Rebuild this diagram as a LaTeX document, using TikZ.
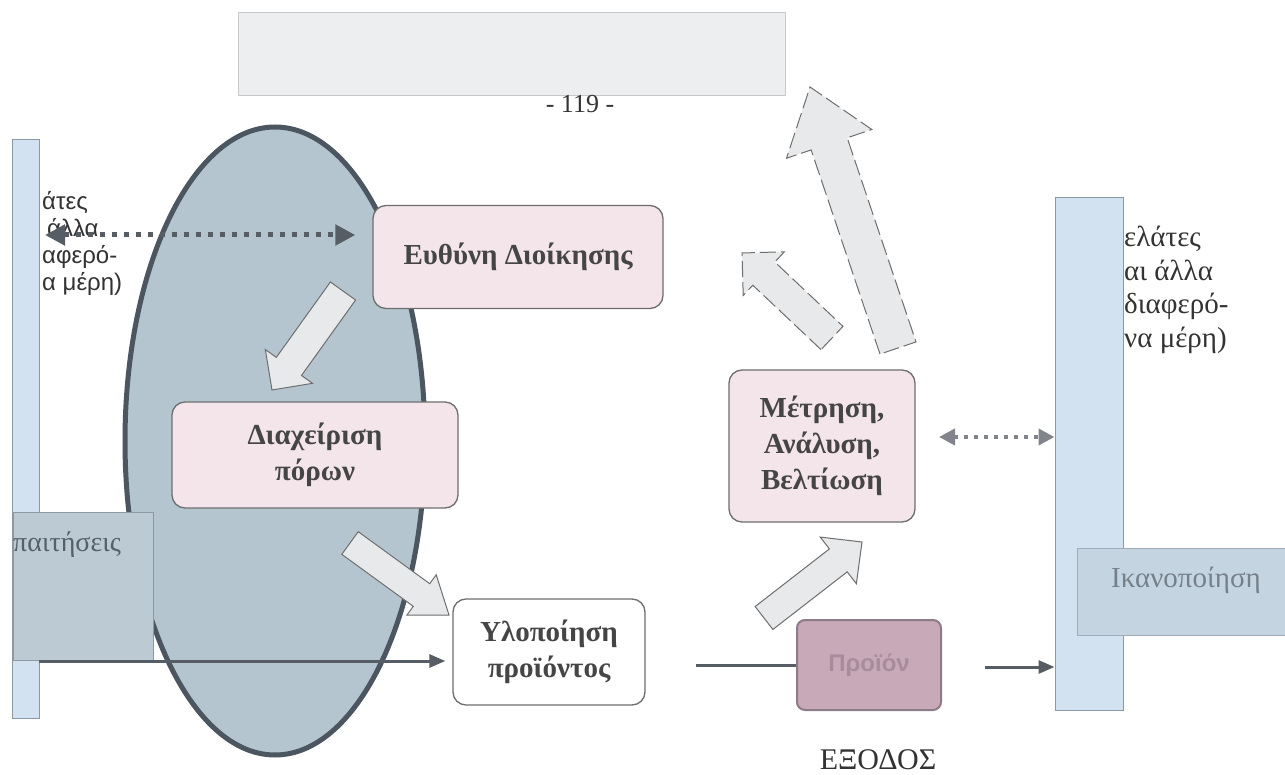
\documentclass[tikz,border=0pt]{standalone}
\usepackage{fontspec}
\setmainfont{Liberation Serif}
\newfontfamily\sansgr{Liberation Sans}
\usetikzlibrary{calc,arrows.meta}

\definecolor{boxpink}{HTML}{F3E5EA}
\definecolor{boxline}{HTML}{6E6E6E}
\definecolor{boxtext}{HTML}{454545}
\definecolor{barblue}{HTML}{D3E2F1}
\definecolor{barline}{HTML}{8C98A4}
\definecolor{ovalfill}{HTML}{B5C5D0}
\definecolor{ovalline}{HTML}{4B5661}
\definecolor{reqfill}{HTML}{BCCAD4}
\definecolor{reqtext}{HTML}{55606B}
\definecolor{sattext}{HTML}{75808B}
\definecolor{satfill}{HTML}{C4D5E1}
\definecolor{arrowfill}{HTML}{E7E9EB}
\definecolor{prodfill}{HTML}{C7A9B7}
\definecolor{prodline}{HTML}{8D7C88}
\definecolor{prodtext}{HTML}{A88C9C}
\definecolor{topfill}{HTML}{ECEEF0}
\definecolor{topline}{HTML}{C6C8CA}
\definecolor{dotgrey}{HTML}{575D64}
\definecolor{textgrey}{HTML}{333333}

\begin{document}
\begin{tikzpicture}[x=1pt,y=-1pt,
  rbox/.style={draw=boxline,line width=1.3pt,rounded corners=13pt,align=center,inner sep=0pt,text=boxtext,font=\fontsize{29}{36}\selectfont\bfseries},
  pinkbox/.style={rbox,fill=boxpink},
  sidebar/.style={draw=barline,line width=1pt,fill=barblue,inner sep=0pt},
  dotline/.style={dotgrey,line width=5pt,dash pattern=on 5pt off 7pt,{Triangle[length=20pt,width=20pt]}-{Triangle[length=20pt,width=20pt]}},
  flowline/.style={draw=dotgrey,line width=3pt,-{Triangle[length=16pt,width=13pt]}},
  fatarrow/.style={draw=boxline,line width=1pt,fill=arrowfill,line join=miter},
  plainedge/.style={solid},
  brokenedge/.style={dash pattern=on 16pt off 5pt}]

\fill[white] (0,0) rectangle (1285,775);
\useasboundingbox (0,0) rectangle (1285,775);

% header:
\node[draw=topline,fill=topfill,anchor=north west,minimum width=547pt,minimum height=83pt] (topb) at (238,12) {};
\node[font=\fontsize{26}{28}\selectfont,text=textgrey] (page) at (580,104) {- 119 -};

% customers, left and right:
\node[sidebar,minimum width=27pt,minimum height=578pt] (lbar) at (25.5,429) {};
\node[sidebar,minimum width=68pt,minimum height=512pt] (rbar) at (1089,454) {};
\node[anchor=west,align=left,inner sep=0pt,text=textgrey,font=\sansgr\fontsize{24}{27}\selectfont] (lcust) at (42,243) {άτες\\\hspace*{5pt}άλλα\\αφερό-\\α μέρη)};
\node[anchor=west,align=left,inner sep=0pt,text=textgrey,font=\fontsize{29}{33.5}\selectfont] (rcust) at (1124,290) {ελάτες\\αι άλλα\\διαφερό-\\να μέρη)};

% the oval:
\draw[ovalline,line width=5pt,fill=ovalfill] (275,441) ellipse [x radius=150pt,y radius=314pt];

\node[draw=barline,line width=1pt,fill=reqfill,anchor=north west,minimum width=140pt,minimum height=148pt] (req) at (13,512) {};
\node[anchor=west,inner sep=0pt,text=reqtext,font=\fontsize{28}{30}\selectfont] (reqtxt) at (13,545) {παιτήσεις};
\node[draw=barline!80,line width=1pt,fill=satfill,anchor=north west,minimum width=208pt,minimum height=87pt] (sat) at (1077,548) {};
\node[text=sattext,font=\fontsize{29}{30}\selectfont] (sattxt) at (1186,580) {Ικανοποίηση};

% process boxes:
\node[pinkbox,minimum width=290pt,minimum height=103pt] (euth) at (518,257) {Ευθύνη Διοίκησης};
\node[pinkbox,minimum width=286pt,minimum height=106pt] (diax) at (315,455) {Διαχείριση\\πόρων};
\node[rbox,fill=white,minimum width=192pt,minimum height=106pt] (ylo) at (549,652) {Υλοποίηση\\προϊόντος};
\node[pinkbox,minimum width=186pt,minimum height=152pt] (metr) at (822,446) {Μέτρηση,\\Ανάλυση,\\Βελτίωση};
\node[draw=prodline,line width=2pt,fill=prodfill,rounded corners=8pt,minimum width=144pt,minimum height=90pt,text=prodtext,font=\sansgr\fontsize{24}{26}\selectfont\bfseries] (prod) at (869,665) {Προϊόν};
\node[text=textgrey,font=\fontsize{30}{32}\selectfont] (exit) at (878,760) {ΕΞΟΔΟΣ};

% block arrows:
\coordinate (t1) at (343,291); \coordinate (h1) at (272,390);
\coordinate (t2) at (350,543); \coordinate (h2) at (449,615);
\coordinate (t3) at (764,618); \coordinate (h3) at (862,542);
\coordinate (t4) at (832,338); \coordinate (h4) at (742,253);
\coordinate (t5) at (898,348); \coordinate (h5) at (810,87);
\foreach \tl/\hd/\sw/\hw/\hl/\eg in {t1/h1/15.5pt/29pt/29pt/plainedge,t2/h2/14pt/25pt/34pt/plainedge,t3/h3/14.5pt/29.5pt/30pt/plainedge,t4/h4/16pt/30pt/30pt/brokenedge,t5/h5/19pt/45pt/60pt/brokenedge}{
  \coordinate (hb) at ($(\hd)!\hl!(\tl)$);
  \draw[fatarrow,\eg] ($(\tl)!\sw!90:(\hd)$) -- ($(hb)!\sw!90:(\hd)$) -- ($(hb)!\hw!90:(\hd)$) -- (\hd) -- ($(hb)!\hw!-90:(\hd)$) -- ($(hb)!\sw!-90:(\hd)$) -- ($(\tl)!\sw!-90:(\hd)$) -- cycle;
}

% lines and arrows:
\coordinate (dotL) at (45,235);
\draw[dotline,shorten >=17pt] (dotL) -- (dotL -| euth.west);
\coordinate (dotR) at (939,437);
\draw[dotline,draw=dotgrey!75,line width=4pt,dash pattern=on 4pt off 6pt,{Triangle[length=16pt,width=16pt]}-{Triangle[length=16pt,width=16pt]}] (dotR) -- (dotR -| rbar.west);
\coordinate (inL) at (39,661);
\draw[flowline,shorten >=7pt] (inL) -- (inL -| ylo.west);
\coordinate (outL) at (696,665);
\draw[dotgrey,line width=3pt] (outL) -- (outL -| prod.west);
\coordinate (outR) at (985,667);
\draw[flowline] (outR) -- (outR -| rbar.west);

\end{tikzpicture}
\end{document}
